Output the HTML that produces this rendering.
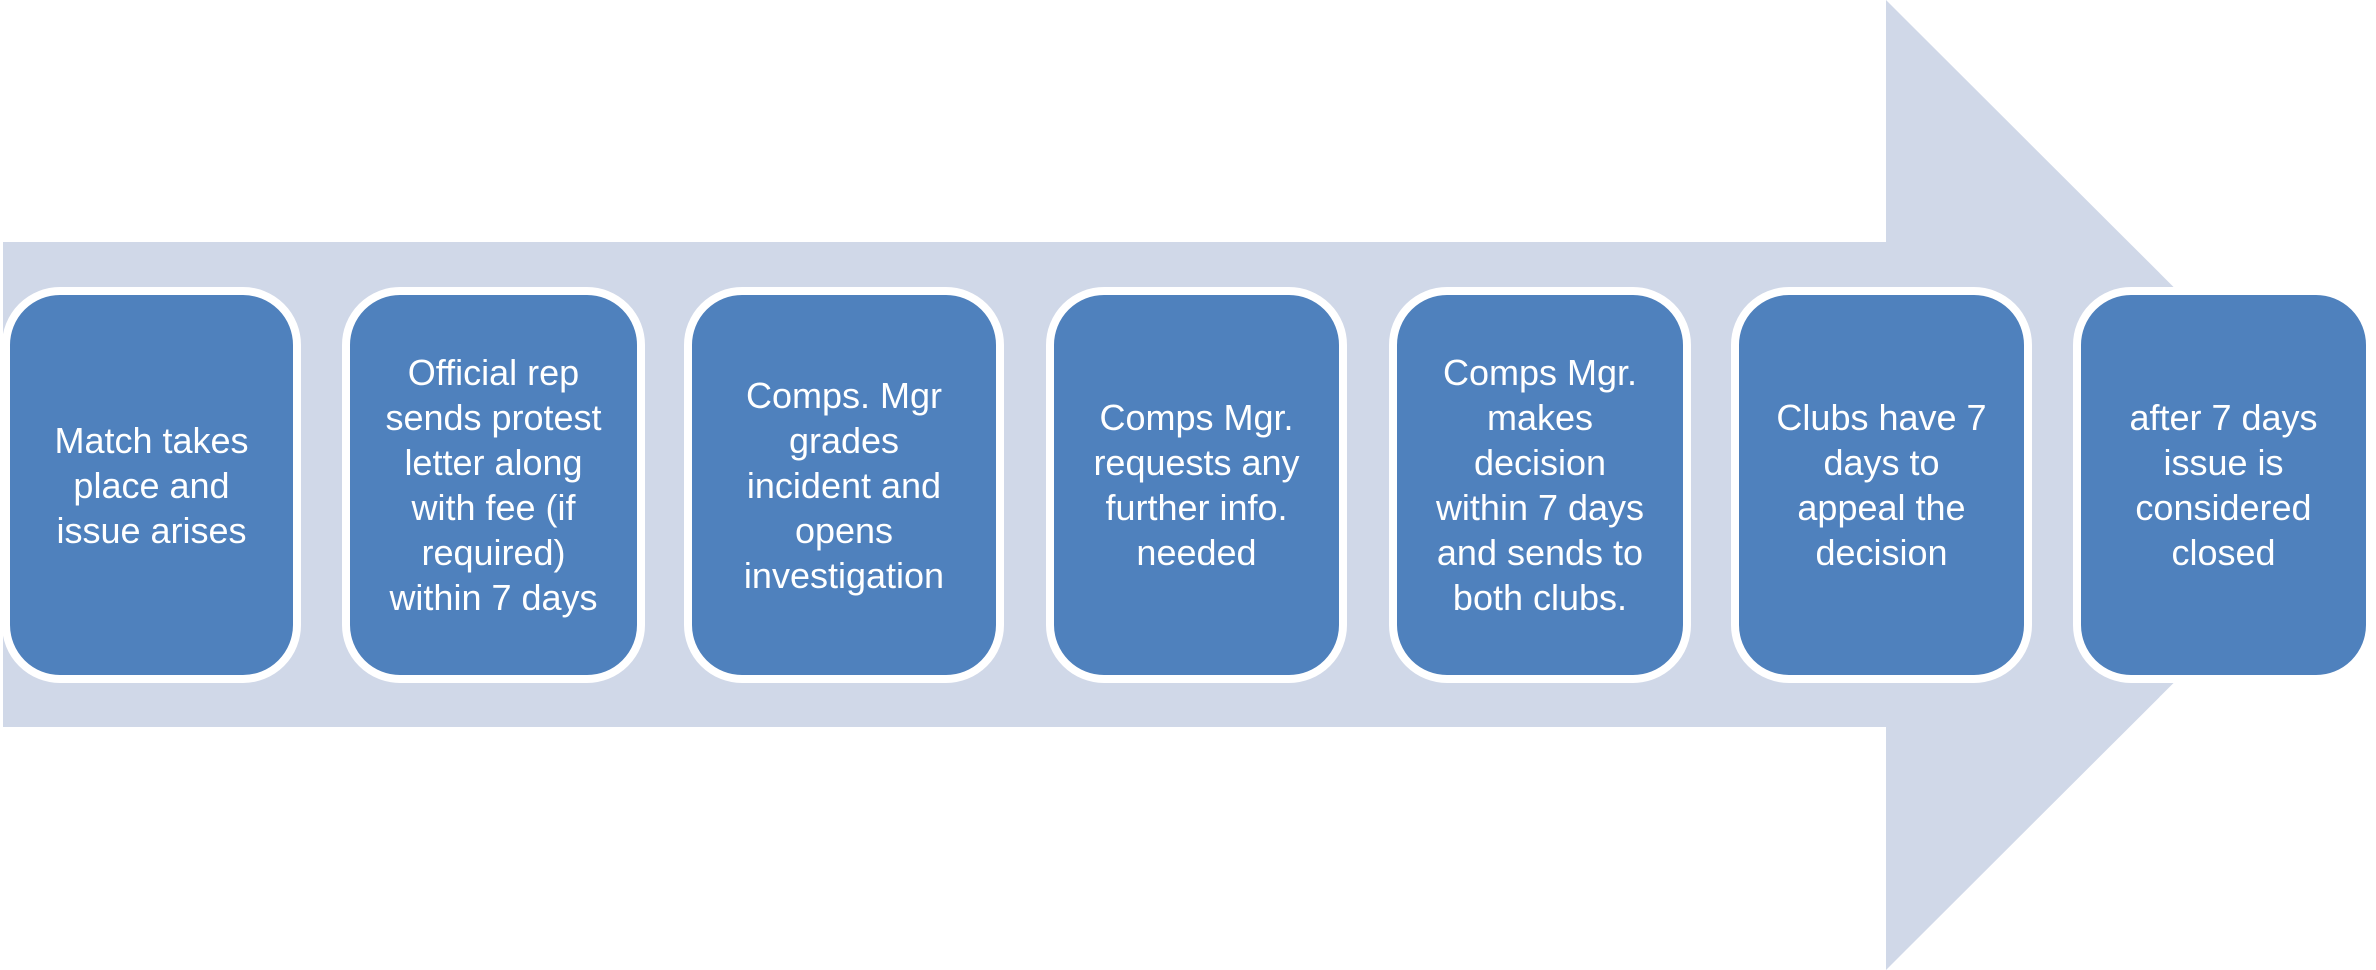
<!DOCTYPE html>
<html><head><meta charset="utf-8"><style>
html,body{margin:0;padding:0;background:#fff;}
body{width:2376px;height:970px;position:relative;overflow:hidden;font-family:"Liberation Sans",sans-serif;}
.b{position:absolute;top:287px;height:380px;background:#4F81BD;border:8px solid #fff;border-radius:58px;display:flex;align-items:center;justify-content:center;text-align:center;color:#fff;font-size:36px;line-height:45px;white-space:nowrap;letter-spacing:0;}
</style></head><body>
<svg width="2376" height="970" style="position:absolute;left:0;top:0">
<polygon points="3,242 1886,242 1886,0 2372,485 1886,970 1886,727 3,727" fill="#D0D8E8"/>
</svg>
<div class="b" style="left:2px;width:283px">Match takes<br>place and<br>issue arises</div>
<div class="b" style="left:342px;width:287px">Official rep<br>sends protest<br>letter along<br>with fee (if<br>required)<br>within 7 days</div>
<div class="b" style="left:684px;width:304px">Comps. Mgr<br>grades<br>incident and<br>opens<br>investigation</div>
<div class="b" style="left:1046px;width:285px">Comps Mgr.<br>requests any<br>further info.<br>needed</div>
<div class="b" style="left:1389px;width:286px">Comps Mgr.<br>makes<br>decision<br>within 7 days<br>and sends to<br>both clubs.</div>
<div class="b" style="left:1731px;width:285px">Clubs have 7<br>days to<br>appeal the<br>decision</div>
<div class="b" style="left:2073px;width:285px">after 7 days<br>issue is<br>considered<br>closed</div>
</body></html>
